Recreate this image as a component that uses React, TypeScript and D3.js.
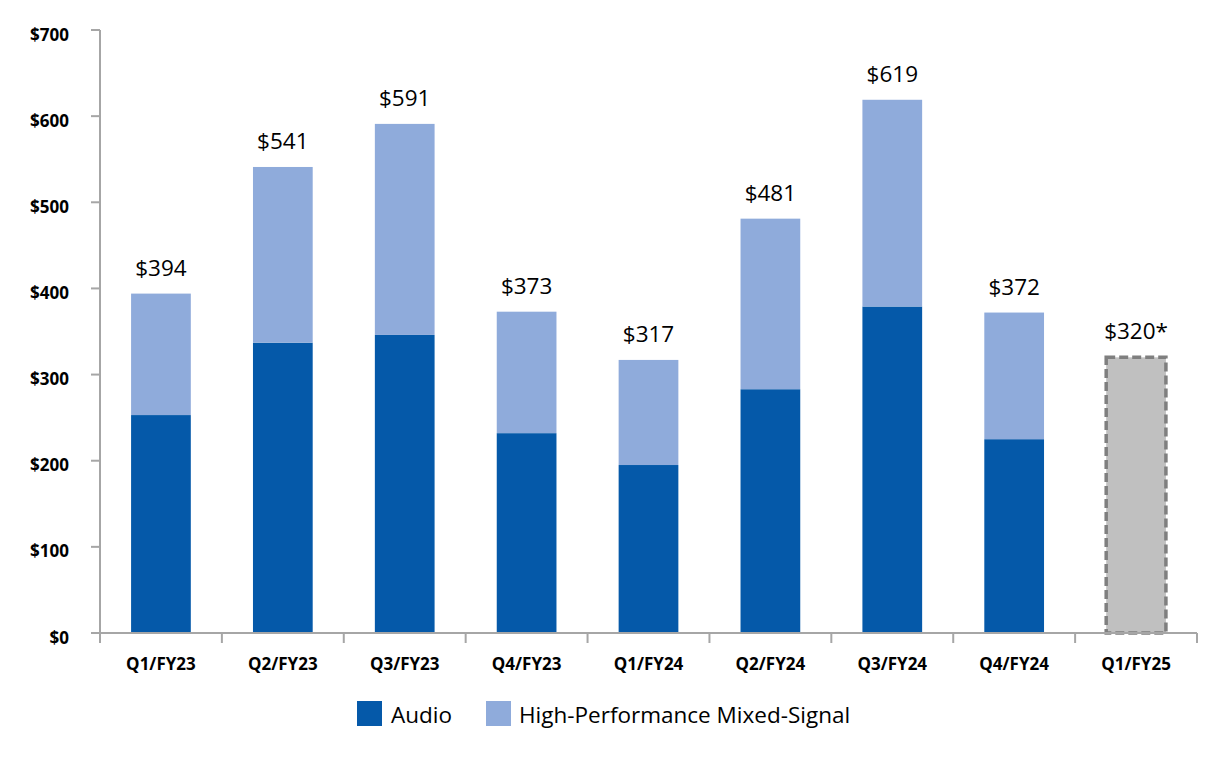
import React from "react";
import * as d3 from "d3";

const categories = ["Q1/FY23", "Q2/FY23", "Q3/FY23", "Q4/FY23", "Q1/FY24", "Q2/FY24", "Q3/FY24", "Q4/FY24", "Q1/FY25"];
const totals = [394, 541, 591, 373, 317, 481, 619, 372, 320];
const audio = [253, 337, 346, 232, 195, 283, 379, 225, 0];
const totalLabels = ["$394", "$541", "$591", "$373", "$317", "$481", "$619", "$372", "$320*"];
const isGuidance = [false, false, false, false, false, false, false, false, true];
const yTicks = [0, 100, 200, 300, 400, 500, 600, 700];
const seriesNames = ["Audio", "High-Performance Mixed-Signal"];

const W = 1226;
const H = 760;
const FONT = "'Open Sans', 'Liberation Sans', sans-serif";
const AUDIO_COLOR = "#0559A9";
const HPMS_COLOR = "#8FABDB";
const AXIS_COLOR = "#A6A6A6";

export default function App() {
  const x = d3.scaleBand<string>().domain(categories).range([100, 1197]).padding(0);
  const y = d3.scaleLinear().domain([0, 700]).range([633, 30]);
  const barW = x.bandwidth() * 0.49;
  const cx = (c: string) => (x(c) as number) + x.bandwidth() / 2;

  return (
    <div style={{ position: "fixed", left: 0, top: 0 }}>
      <svg width={W} height={H} style={{ display: "block", background: "#fff" }}>
        {/* bars */}
        {categories.map((c, i) => {
          const x0 = cx(c) - barW / 2;
          if (isGuidance[i]) {
            return (
              <rect
                key={c}
                x={x0}
                y={y(totals[i])}
                width={barW}
                height={y(0) - y(totals[i])}
                fill="#C0C0C0"
                stroke="#7F7F7F"
                strokeWidth={3.5}
                strokeDasharray="9,4"
              />
            );
          }
          const hp = totals[i] - audio[i];
          return (
            <g key={c}>
              <rect x={x0} y={y(audio[i])} width={barW} height={y(0) - y(audio[i])} fill={AUDIO_COLOR} />
              <rect x={x0} y={y(audio[i] + hp)} width={barW} height={y(audio[i]) - y(audio[i] + hp)} fill={HPMS_COLOR} />
            </g>
          );
        })}

        {/* total labels */}
        {categories.map((c, i) => (
          <text
            key={"l" + c}
            x={cx(c)}
            y={y(totals[i]) - 18}
            textAnchor="middle"
            fontFamily={FONT}
            fontSize={22.5}
            fill="#000"
          >
            {totalLabels[i]}
          </text>
        ))}

        {/* y axis */}
        <line x1={100} x2={100} y1={y(700)} y2={y(0)} stroke={AXIS_COLOR} strokeWidth={2} />
        {yTicks.map((t) => (
          <g key={"yt" + t}>
            <line x1={91} x2={100} y1={y(t)} y2={y(t)} stroke={AXIS_COLOR} strokeWidth={2} />
            <text
              x={69}
              y={y(t) + 10.5}
              textAnchor="end"
              fontFamily={FONT}
              fontWeight="bold"
              fontSize={17}
              fill="#000"
            >
              {"$" + t}
            </text>
          </g>
        ))}

        {/* x axis */}
        <line x1={100} x2={1197} y1={y(0)} y2={y(0)} stroke={AXIS_COLOR} strokeWidth={2} />
        {categories.concat(["__end"]).map((c, i) => {
          const xt = i < categories.length ? (x(c) as number) : 1197;
          return <line key={"xt" + i} x1={xt} x2={xt} y1={y(0)} y2={y(0) + 10} stroke={AXIS_COLOR} strokeWidth={2} />;
        })}
        {categories.map((c) => (
          <text
            key={"xl" + c}
            x={cx(c)}
            y={670}
            textAnchor="middle"
            fontFamily={FONT}
            fontWeight="bold"
            fontSize={17}
            fill="#000"
          >
            {c}
          </text>
        ))}

        {/* legend */}
        <rect x={357} y={701} width={25} height={25} fill={AUDIO_COLOR} />
        <text x={391} y={723} fontFamily={FONT} fontSize={22.5} fill="#000">
          {seriesNames[0]}
        </text>
        <rect x={486} y={701} width={25} height={25} fill={HPMS_COLOR} />
        <text x={519} y={723} fontFamily={FONT} fontSize={22.5} fill="#000">
          {seriesNames[1]}
        </text>
      </svg>
    </div>
  );
}
